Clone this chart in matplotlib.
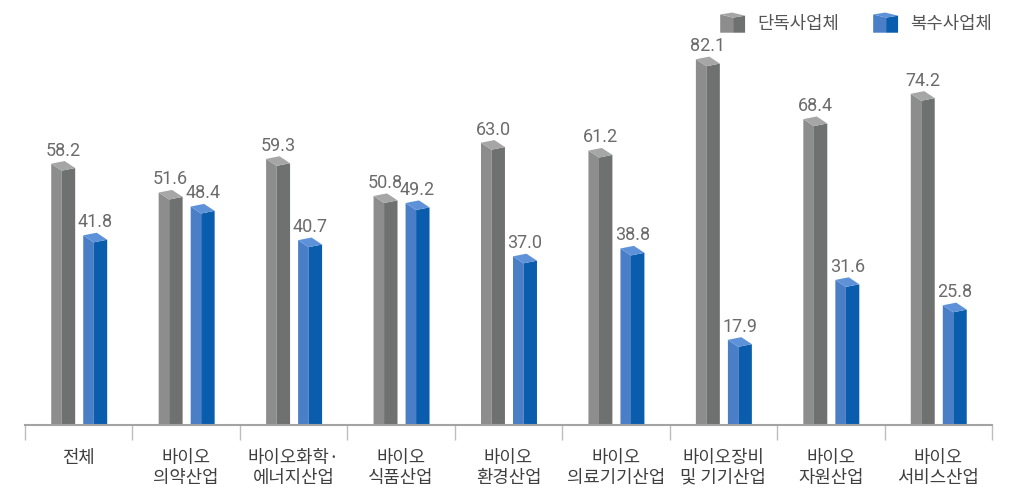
import numpy as np
import matplotlib
matplotlib.use('Agg')
import matplotlib.pyplot as plt
from matplotlib.patches import Polygon
from matplotlib.legend_handler import HandlerBase

# 데이터
categories = ['전체', '바이오\n의약산업', '바이오화학·\n에너지산업', '바이오\n식품산업',
              '바이오\n환경산업', '바이오\n의료기기산업', '바이오장비\n및 기기산업',
              '바이오\n자원산업', '바이오\n서비스산업']
single = [58.2, 51.6, 59.3, 50.8, 63.0, 61.2, 82.1, 68.4, 74.2]
multi = [41.8, 48.4, 40.7, 49.2, 37.0, 38.8, 17.9, 31.6, 25.8]
series_names = ['단독사업체', '복수사업체']

# 색상 (앞면, 옆면, 윗면)
gray_cols = ('#8d8d8d', '#6e7170', '#a6a6a6')
blue_cols = ('#4a7ec6', '#0a5cad', '#5e92d8')

KFONT = ['Noto Sans CJK KR', 'DejaVu Sans']
NFONT = ['Roboto', 'DejaVu Sans']


def cube_polys(xl, xm, xr, y0, y1, dl, dr):
    """입체 막대의 세 면 좌표"""
    left = [(xl, y0), (xm, y0), (xm, y1), (xl, y1 + dl)]
    right = [(xm, y0), (xr, y0), (xr, y1 + dr), (xm, y1)]
    top = [(xl, y1 + dl), (xm, y1), (xr, y1 + dr), (xl + xr - xm, y1 + dl + dr)]
    return left, right, top


class Cube:
    def __init__(self, cols):
        self.cols = cols


class CubeHandler(HandlerBase):
    def create_artists(self, legend, orig_handle, xdescent, ydescent,
                       width, height, fontsize, trans):
        x0, y0 = -xdescent, -ydescent
        faces = cube_polys(x0, x0 + 0.52 * width, x0 + width,
                           y0, y0 + 0.78 * height, 0.16 * height, 0.1 * height)
        arts = []
        for pts, c in zip(faces, orig_handle.cols):
            p = Polygon(pts, closed=True, facecolor=c, edgecolor='none', transform=trans)
            arts.append(p)
        return arts


fig = plt.figure(figsize=(10.2, 4.88), dpi=100)
ax = fig.add_axes([25 / 1020, 63 / 488, 967 / 1020, 425 / 488])

x = np.arange(len(categories))
# 막대 위치 (카테고리 단위)
geo = {
    'single': (-0.256, -0.158, -0.033),
    'multi': (0.042, 0.140, 0.265),
}
dl, dr = 1.6, 0.6

for vals, key, cols in [(single, 'single', gray_cols), (multi, 'multi', blue_cols)]:
    ol, om, orr = geo[key]
    for xi, v in zip(x, vals):
        faces = cube_polys(xi + ol, xi + om, xi + orr, 0, v, dl, dr)
        for pts, c in zip(faces, cols):
            ax.add_patch(Polygon(pts, closed=True, facecolor=c, edgecolor='none'))
        ax.annotate(f'{v:.1f}', (xi + (ol + orr) / 2, v + dl), xytext=(0, 3),
                    textcoords='offset points', ha='center', va='bottom',
                    fontsize=13, color='#6b6b6b', family=NFONT)

ax.set_xlim(-0.5, len(categories) - 0.5)
ax.set_ylim(0, 425 / 4.37)

for s in ['top', 'right', 'left']:
    ax.spines[s].set_visible(False)
ax.spines['bottom'].set_color('#a3a3a3')
ax.spines['bottom'].set_linewidth(1.5)
ax.set_yticks([])

ax.set_xticks(x)
ax.set_xticklabels(categories, family=KFONT, fontsize=12.8, color='#3f3f3f',
                   va='top', linespacing=1.15)
ax.set_xticks(np.arange(len(categories) + 1) - 0.5, minor=True)
ax.tick_params(axis='x', which='major', length=0, pad=17)
ax.tick_params(axis='x', which='minor', length=11, width=1, color='#bdbdbd')

handles = [Cube(gray_cols), Cube(blue_cols)]
fig.legend(handles, series_names, handler_map={Cube: CubeHandler()},
           loc='upper right', bbox_to_anchor=(0.986, 1.0), ncol=2, frameon=False,
           prop={'family': KFONT, 'size': 12.8}, labelcolor='#555555',
           handlelength=1.4, handleheight=1.3, handletextpad=0.7,
           columnspacing=1.9, borderpad=0.25)

fig.savefig('out.png', dpi=100)
